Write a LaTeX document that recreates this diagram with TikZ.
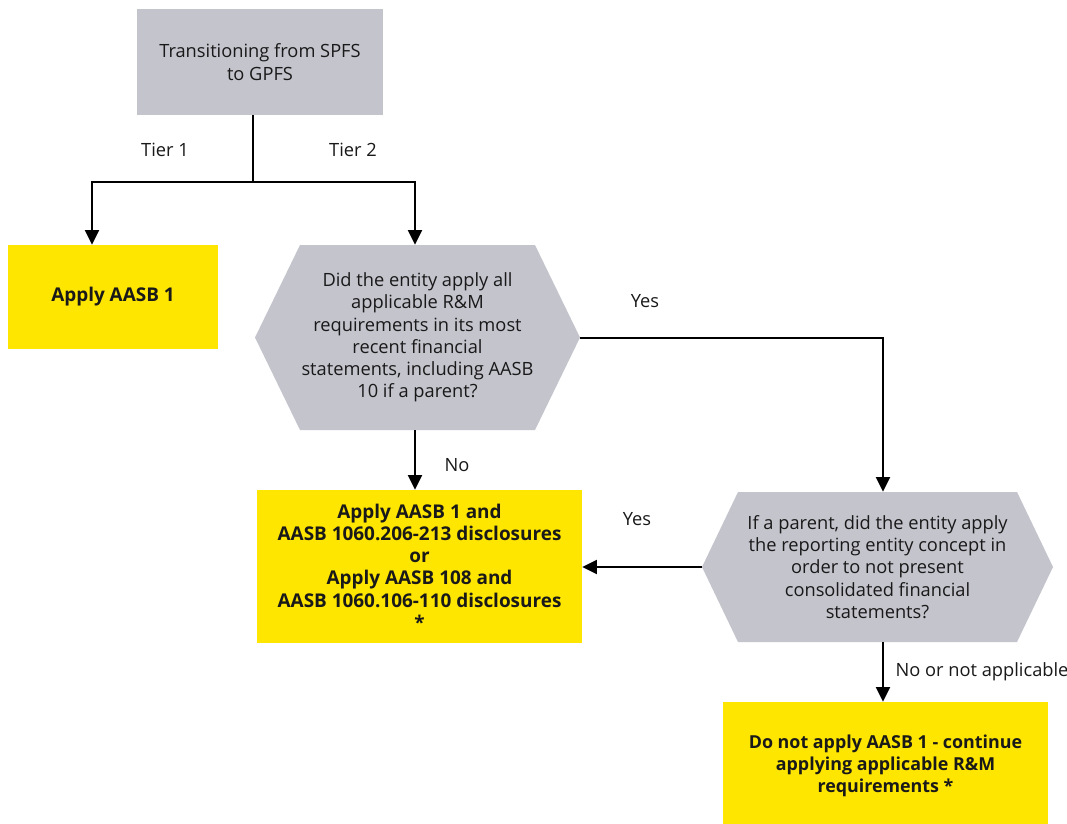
\documentclass[tikz,border=0pt]{standalone}
\usepackage{fontspec}
\setmainfont{Open Sans}
\usetikzlibrary{arrows.meta}
\definecolor{eygray}{RGB}{196,196,205}
\definecolor{eyyellow}{RGB}{255,230,0}
\tikzset{
  base/.style={inner sep=0pt, align=center, font=\fontsize{13.7}{16.7}\selectfont, text=black!90},
  graybox/.style={base, fill=eygray},
  yellowbox/.style={base, fill=eyyellow, font=\fontsize{14.2}{16.7}\selectfont\bfseries},
  hexbox/.style={base, path picture={
      \fill[eygray] (path picture bounding box.west)
        -- ([xshift=#1]path picture bounding box.north west)
        -- ([xshift=-#1]path picture bounding box.north east)
        -- (path picture bounding box.east)
        -- ([xshift=-#1]path picture bounding box.south east)
        -- ([xshift=#1]path picture bounding box.south west)
        -- cycle;}},
  lbl/.style={base},
  conn/.style={line width=1.5pt, black},
  arr/.style={conn, -{Triangle[length=11pt,width=10.5pt]}}
}
\begin{document}
\begin{tikzpicture}[x=0.75pt,y=-0.75pt]
\useasboundingbox (0,0) rectangle (1067,824);
\fill[white] (0,0) rectangle (1067,824);

\node[graybox, minimum width=184.5pt, minimum height=79.5pt] (top) at (260,62) {Transitioning from SPFS\\to GPFS};
\node[yellowbox, minimum width=157.5pt, minimum height=78pt] (b1) at (113,297) {Apply AASB 1};
\node[hexbox=33.75pt, minimum width=243.75pt, minimum height=138.75pt] (q1) at (417.5,337.5)
  {Did the entity apply all\\applicable R\&M\\requirements in its most\\recent financial\\statements, including AASB\\10 if a parent?};
\node[yellowbox, minimum width=243.75pt, minimum height=114.75pt] (b2) at (419.5,566.5)
  {Apply AASB 1 and\\AASB 1060.206-213 disclosures\\or\\Apply AASB 108 and\\AASB 1060.106-110 disclosures\\*};
\node[hexbox=27pt, minimum width=263.25pt, minimum height=112.5pt] (q2) at (877.5,567)
  {If a parent, did the entity apply\\the reporting entity concept in\\order to not present\\consolidated financial\\statements?};
\node[yellowbox, font=\fontsize{13.4}{16.7}\selectfont\bfseries, minimum width=243.75pt, minimum height=96pt] (b3) at (885.5,766)
  {Do not apply AASB 1 - continue\\applying applicable R\&M\\requirements *};

\node[lbl] (t1) at (165,150) {Tier 1};
\node[lbl] (t2) at (353,150) {Tier 2};
\node[lbl] (yes1) at (645,301) {Yes};
\node[lbl] (no1) at (457,465) {No};
\node[lbl] (yes2) at (637,519) {Yes};
\node[lbl] (no2) at (982,672) {No or not applicable};

\coordinate (split) at (253,182);
\coordinate (tl) at (92,182);
\coordinate (tr) at (415,182);
\coordinate (yc) at (883,337.5);

\draw[conn] (top.south -| split) -- (split);
\draw[arr] (split) -- (tl) -- (tl |- b1.north);
\draw[arr] (split) -- (tr) -- (tr |- q1.north);
\draw[arr] (q1.east) -- (yc) -- (yc |- q2.north);
\draw[arr] (tr |- q1.south) -- (tr |- b2.north);
\draw[arr] (q2.west) -- (b2.east |- q2.west);
\draw[arr] (yc |- q2.south) -- (yc |- b3.north);
\end{tikzpicture}
\end{document}
